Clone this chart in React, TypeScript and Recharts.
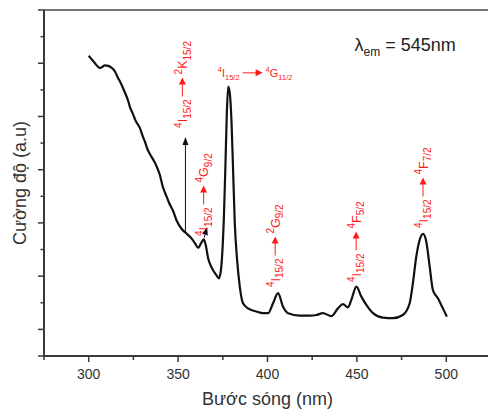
import React from "react";
import { Line, LineChart, ReferenceDot, ReferenceLine, XAxis, YAxis } from "recharts";

// excitation spectrum, wavelength (nm) vs intensity (a.u.)
const wavelengths = [
  300, 302, 303.5, 305, 306.3, 307.5, 309, 311, 312.5, 314.7, 316, 317.5, 319,
  320.3, 322, 323, 325, 326, 328.6, 330, 331.4, 333, 335, 337.5, 339.8, 341.5,
  343.5, 345, 347.2, 349.1, 351.9, 354.7, 357.5, 359.4, 361.2, 363.1, 364.4,
  365.5, 366.8, 368.7, 371.5, 372.8, 373.9, 374.8, 375.6, 376.4, 377.2, 378,
  378.9, 379.9, 380.8, 381.7, 383, 384.5, 386.3, 389.1, 393.8, 397.5, 400.3,
  403.1, 405.9, 408.7, 411.5, 418, 423.6, 427.3, 431, 435.7, 439.4, 442.2, 445,
  446.9, 449.7, 452.5, 455.3, 459, 464.6, 470.1, 475.7, 479.5, 481.3, 483.2,
  485.1, 487, 488.8, 490.7, 492.5, 495.3, 498.1, 500.3,
];
const intensity = [
  11.28, 11.12, 11.0, 10.88, 10.82, 10.86, 10.92, 10.9, 10.84, 10.69, 10.5, 10.31,
  10.1, 9.89, 9.6, 9.37, 9.05, 8.87, 8.57, 8.3, 8.06, 7.75, 7.5, 7.2, 6.8, 6.35,
  6.0, 5.75, 5.45, 5.1, 4.78, 4.6, 4.42, 4.24, 4.07, 4.27, 4.38, 4.15, 3.67,
  3.33, 3.03, 2.92, 3.2, 3.98, 5.2, 7.0, 9.0, 10.12, 9.88, 8.75, 6.88, 5.0,
  3.61, 2.61, 1.98, 1.79, 1.67, 1.61, 1.61, 1.98, 2.36, 1.85, 1.61, 1.52, 1.52,
  1.54, 1.61, 1.5, 1.79, 1.95, 1.83, 2.11, 2.61, 2.23, 1.92, 1.61, 1.44, 1.42,
  1.54, 1.98, 2.73, 3.73, 4.36, 4.59, 4.3, 3.36, 2.48, 2.17, 1.79, 1.48,
];
const xTicks = [275, 300, 325, 350, 375, 400, 425, 450, 475, 500, 525];
const yTicks = [0, 1, 2, 3, 4, 5, 6, 7, 8, 9, 10, 11, 12, 13];

// transition labels: [superscript, letter, subscript]
type Term = [string, string, string];
const ground: Term = ["4", "I", "15/2"];
const excitedStates: Term[] = [
  ["2", "K", "15/2"],
  ["4", "G", "11/2"],
  ["4", "G", "9/2"],
  ["2", "G", "9/2"],
  ["4", "F", "5/2"],
  ["4", "F", "7/2"],
];
const labelAnchorX = [354.9, 372.2, 366.8, 406.8, 452.1, 489.5];
const labelAnchorY = [8.57, 10.49, 4.51, 2.59, 2.78, 4.81];
const labelVertical = [true, false, true, true, true, true];

// black pointer arrows: [x1, y1, x2, y2] in data units
const pointers = [
  [354.1, 4.62, 354.1, 8.23],
  [364.6, 4.45, 366.2, 4.85],
];

const data = wavelengths.map((w, i) => ({ w, v: intensity[i] }));

const AXIS = "#3a3a3a";
const RED = "#ff1a1a";
const FONT = "'Liberation Sans', Arial, sans-serif";

const charW: Record<string, number> = { I: 0.278, K: 0.667, G: 0.778, F: 0.611, "/": 0.278 };
const widthOf = (s: string, size: number) =>
  s.split("").reduce((acc, c) => acc + (charW[c] ?? 0.556) * size, 0);

function TermText({ term, x, big, small }: { term: Term; x: number; big: number; small: number }) {
  return (
    <text x={x} y={0} fontSize={big} fill={RED} fontFamily={FONT}>
      <tspan fontSize={small} dy={-big * 0.42}>{term[0]}</tspan>
      <tspan dy={big * 0.42}>{term[1]}</tspan>
      <tspan fontSize={small} dy={big * 0.3}>{term[2]}</tspan>
    </text>
  );
}

function termWidth(t: Term, big: number, small: number) {
  return widthOf(t[0], small) + widthOf(t[1], big) + widthOf(t[2], small);
}

function TransitionLabel({ cx, cy, to, vertical }: { cx: number; cy: number; to: Term; vertical: boolean }) {
  const big = vertical ? 12.5 : 11;
  const small = vertical ? 10 : 7.5;
  const arrowLen = vertical ? 19 : 20;
  const w1 = termWidth(ground, big, small);
  const a0 = w1 + 3;
  const a1 = a0 + arrowLen;
  const ay = -big * 0.36;
  return (
    <g transform={`translate(${cx},${cy}) rotate(${vertical ? -90 : 0})`}>
      <TermText term={ground} x={0} big={big} small={small} />
      <line x1={a0} y1={ay} x2={a1 - 6} y2={ay} stroke={RED} strokeWidth={1} />
      <polygon points={`${a1},${ay} ${a1 - 7},${ay - 3.5} ${a1 - 7},${ay + 3.5}`} fill={RED} />
      <TermText term={to} x={a1 + 3} big={big} small={small} />
    </g>
  );
}

function Pointer(props: any) {
  const { x1, y1, x2, y2 } = props;
  const ang = Math.atan2(y2 - y1, x2 - x1);
  const L = 8;
  const h = 3;
  const bx = x2 - L * Math.cos(ang);
  const by = y2 - L * Math.sin(ang);
  const px = -Math.sin(ang) * h;
  const py = Math.cos(ang) * h;
  return (
    <g>
      <line x1={x1} y1={y1} x2={bx} y2={by} stroke="#111" strokeWidth={1} />
      <polygon points={`${x2},${y2} ${bx + px},${by + py} ${bx - px},${by - py}`} fill="#111" />
    </g>
  );
}

function XTick({ x, y, payload }: any) {
  const major = payload.value % 50 === 0;
  return (
    <g>
      <line x1={x} x2={x} y1={y} y2={y + (major ? 6 : 4)} stroke={AXIS} strokeWidth={1.5} />
      {major && (
        <text x={x} y={y + 23} textAnchor="middle" fontSize={14} fill="#333" fontFamily={FONT}>
          {payload.value}
        </text>
      )}
    </g>
  );
}

function YTick({ x, y, payload }: any) {
  const major = payload.value % 2 === 1 || payload.value === 0;
  return <line x1={x - (major ? 6 : 3.5)} x2={x} y1={y} y2={y} stroke={AXIS} strokeWidth={1.5} />;
}

function YTitle() {
  return (
    <text
      transform="translate(26,183) rotate(-90)"
      textAnchor="middle"
      fontSize={18}
      fill="#333"
      fontFamily={FONT}
    >
      Cường độ (a.u)
    </text>
  );
}

function XTitle({ viewBox }: any) {
  return (
    <text x={viewBox.x + viewBox.width / 2} y={405} textAnchor="middle" fontSize={18} fill="#333" fontFamily={FONT}>
      Bước sóng (nm)
    </text>
  );
}

export default function App() {
  return (
    <div style={{ position: "fixed", left: 0, top: 0, width: 488, height: 411, overflow: "hidden", background: "#fff" }}>
      <LineChart width={501} height={411} data={data} margin={{ top: 10, right: 10, bottom: 0, left: 4 }}>
        <XAxis
          dataKey="w"
          type="number"
          domain={[275, 525]}
          ticks={xTicks}
          interval={0}
          height={55}
          tickSize={0}
          tickMargin={0}
          tickLine={false}
          axisLine={{ stroke: AXIS, strokeWidth: 2 }}
          tick={(p: any) => <XTick {...p} />}
          label={{ content: XTitle }}
        />
        <YAxis
          type="number"
          domain={[0, 13]}
          ticks={yTicks}
          interval={0}
          width={40}
          tickSize={0}
          tickMargin={0}
          tickLine={false}
          axisLine={{ stroke: AXIS, strokeWidth: 2 }}
          tick={(p: any) => <YTick {...p} />}
          label={{ content: YTitle }}
        />
        <ReferenceLine y={13} stroke="#777" strokeWidth={2} />
        {pointers.map((p, i) => (
          <ReferenceLine
            key={`ptr${i}`}
            segment={[{ x: p[0], y: p[1] }, { x: p[2], y: p[3] }]}
            shape={(sp: any) => <Pointer {...sp} />}
          />
        ))}
        <Line
          type="monotone"
          dataKey="v"
          stroke="#111"
          strokeWidth={2.2}
          dot={false}
          isAnimationActive={false}
        />
        {excitedStates.map((t, i) => (
          <ReferenceDot
            key={`lab${i}`}
            x={labelAnchorX[i]}
            y={labelAnchorY[i]}
            shape={(sp: any) => <TransitionLabel cx={sp.cx} cy={sp.cy} to={t} vertical={labelVertical[i]} />}
          />
        ))}
        <ReferenceDot
          x={448.7}
          y={11.47}
          shape={(sp: any) => (
            <text x={sp.cx} y={sp.cy} fontSize={18} fill="#222" fontFamily={FONT}>
              λ<tspan fontSize={12} dy={5}>em</tspan>
              <tspan dy={-5}> = 545nm</tspan>
            </text>
          )}
        />
      </LineChart>
    </div>
  );
}
